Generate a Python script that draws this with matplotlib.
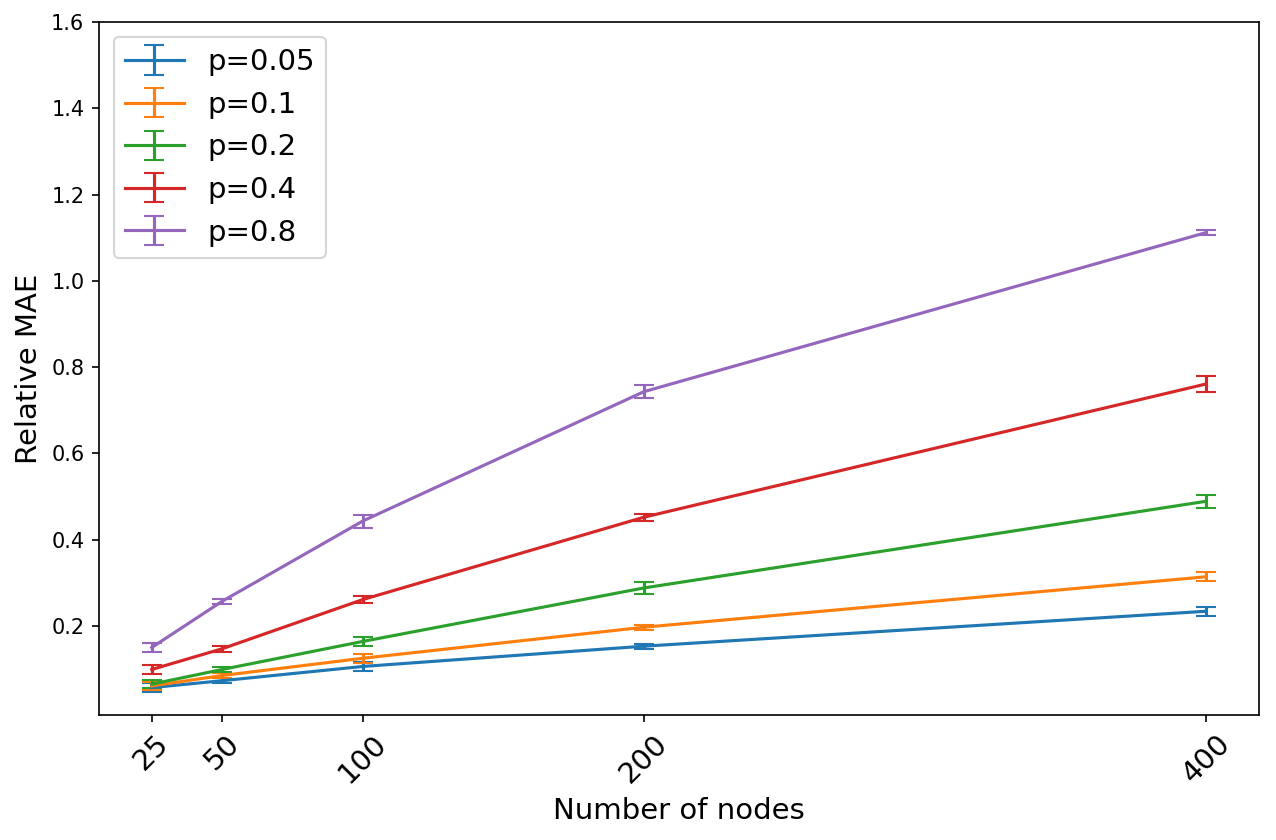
import matplotlib
matplotlib.use("Agg")
import matplotlib.pyplot as plt

nodes = [25, 50, 100, 200, 400]
probs = ["0.05", "0.1", "0.2", "0.4", "0.8"]

mae_005 = [0.057, 0.073, 0.106, 0.153, 0.234]
err_005 = [0.010, 0.006, 0.011, 0.006, 0.010]
mae_01 = [0.061, 0.085, 0.125, 0.197, 0.314]
err_01 = [0.010, 0.006, 0.011, 0.006, 0.011]
mae_02 = [0.065, 0.099, 0.164, 0.288, 0.489]
err_02 = [0.010, 0.005, 0.011, 0.013, 0.015]
mae_04 = [0.099, 0.147, 0.261, 0.452, 0.761]
err_04 = [0.010, 0.007, 0.009, 0.008, 0.019]
mae_08 = [0.150, 0.257, 0.443, 0.743, 1.112]
err_08 = [0.011, 0.006, 0.015, 0.015, 0.005]

means = [mae_005, mae_01, mae_02, mae_04, mae_08]
errs = [err_005, err_01, err_02, err_04, err_08]

fig = plt.figure(figsize=(1276 / 150, 840 / 150), dpi=150)
ax = fig.add_subplot(1, 1, 1)
fig.subplots_adjust(left=99 / 1276, right=1259 / 1276, top=1 - 22 / 840, bottom=1 - 715 / 840)

for p, m, e in zip(probs, means, errs):
    ax.errorbar(nodes, m, yerr=e, capsize=5, label="p=" + p)

ax.set_xticks(nodes)
ax.set_xticklabels([str(n) for n in nodes], fontsize=14, rotation=45)
ax.set_yticks([0.2, 0.4, 0.6, 0.8, 1.0, 1.2, 1.4, 1.6])
ax.tick_params(axis="y", labelsize=10)
ax.set_ylim(top=1.6)
ax.set_xlabel("Number of nodes", fontsize=14)
ax.set_ylabel("Relative MAE", fontsize=14)
ax.legend(loc="upper left", fontsize=14)

fig.savefig("out.png", dpi=150)
